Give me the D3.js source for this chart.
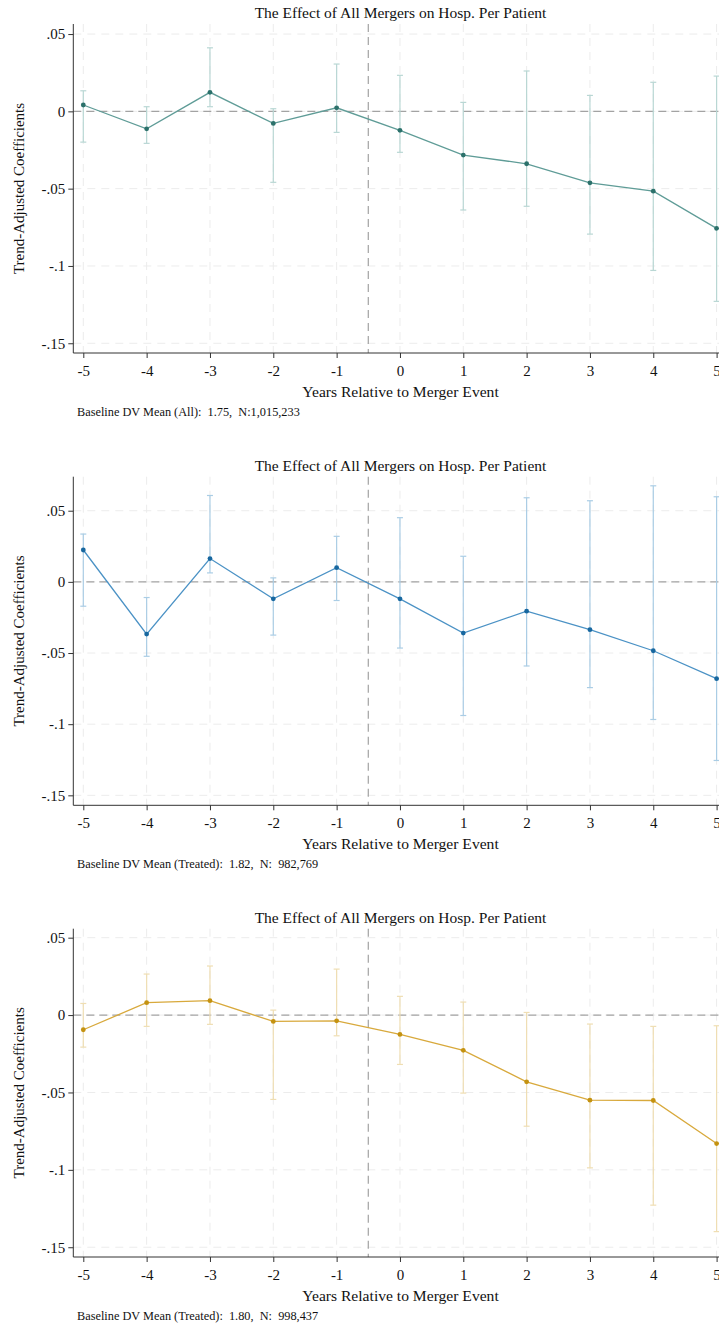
<!DOCTYPE html>
<html><head><meta charset="utf-8">
<script src="https://cdn.jsdelivr.net/npm/d3@7"></script>
<style>body{margin:0;background:#fff}svg{display:block}text{font-family:"Liberation Serif","Times New Roman",serif;fill:#111;white-space:pre}</style>
</head><body>
<script>
const years = [-5,-4,-3,-2,-1,0,1,2,3,4,5];
const xTickLabels = ["-5","-4","-3","-2","-1","0","1","2","3","4","5"];
const yTicks = [0.05, 0, -0.05, -0.1, -0.15];
const yTickLabels = [".05", "0", "-.05", "-.1", "-.15"];
const titleText = "The Effect of All Mergers on Hosp. Per Patient";
const xTitle = "Years Relative to Merger Event";
const yTitle = "Trend-Adjusted Coefficients";

const coefAll  = [0.0041,-0.0113,0.0123,-0.0078,0.0023,-0.0123,-0.0283,-0.0339,-0.0462,-0.0516,-0.0757];
const hiAll    = [0.0133,0.0030,0.0411,0.0017,0.0306,0.0233,0.0058,0.0261,0.0103,0.0188,0.0228];
const loAll    = [-0.0199,-0.0207,0.0030,-0.0459,-0.0136,-0.0265,-0.0638,-0.0614,-0.0794,-0.1029,-0.1229];

const coefTr1  = [0.0224,-0.0367,0.0164,-0.0119,0.0100,-0.0119,-0.0360,-0.0206,-0.0336,-0.0484,-0.0680];
const hiTr1    = [0.0336,-0.0110,0.0607,0.0028,0.0320,0.0451,0.0180,0.0591,0.0570,0.0675,0.0598];
const loTr1    = [-0.0171,-0.0523,0.0063,-0.0374,-0.0131,-0.0465,-0.0939,-0.0591,-0.0743,-0.0967,-0.1255];

const coefTr2  = [-0.0095,0.0080,0.0093,-0.0041,-0.0037,-0.0125,-0.0228,-0.0431,-0.0550,-0.0552,-0.0830];
const hiTr2    = [0.0075,0.0265,0.0317,0.0032,0.0297,0.0121,0.0084,0.0017,-0.0058,-0.0073,-0.0069];
const loTr2    = [-0.0207,-0.0073,-0.0060,-0.0545,-0.0134,-0.0319,-0.0504,-0.0718,-0.0987,-0.1228,-0.1399];

const notes = ["Baseline DV Mean (All):  1.75,  N:1,015,233",
               "Baseline DV Mean (Treated):  1.82,  N:  982,769",
               "Baseline DV Mean (Treated):  1.80,  N:  998,437"];

const panels = [
  {coef:coefAll, hi:hiAll, lo:loAll, note:notes[0], top:24, bottom:353, yMax:0.0565, yMin:-0.1563,
   line:"#5f9c97", mark:"#2c716b", err:"#b9d7d4"},
  {coef:coefTr1, hi:hiTr1, lo:loTr1, note:notes[1], top:476.7, bottom:805.3, yMax:0.0739, yMin:-0.157,
   line:"#4b92c5", mark:"#17679f", err:"#aacde5"},
  {coef:coefTr2, hi:hiTr2, lo:loTr2, note:notes[2], top:928.7, bottom:1257, yMax:0.0558, yMin:-0.1563,
   line:"#d8a93c", mark:"#c49210", err:"#efdeb3"}
];

const W = 719, H = 1326;
const svg = d3.select("body").append("svg").attr("width", W).attr("height", H);
const left = 73.3;
const x = d3.scaleLinear().domain([-5.158, 5.158]).range([left, left + 10.316*63.33]);

panels.forEach(p => {
  const g = svg.append("g");
  const y = d3.scaleLinear().domain([p.yMin, p.yMax]).range([p.bottom, p.top]);
  const right = W + 10;
  g.selectAll(".hg").data(yTicks).enter().append("line")
    .attr("x1", left).attr("x2", right).attr("y1", d=>y(d)).attr("y2", d=>y(d))
    .attr("stroke", "#ececec").attr("stroke-width", 1).attr("stroke-dasharray", "8,6");
  g.selectAll(".vg").data(years).enter().append("line")
    .attr("x1", d=>x(d)).attr("x2", d=>x(d)).attr("y1", p.top).attr("y2", p.bottom)
    .attr("stroke", "#ececec").attr("stroke-width", 1).attr("stroke-dasharray", "8,6");
  g.append("line").attr("x1", left).attr("x2", right).attr("y1", y(0)).attr("y2", y(0))
    .attr("stroke", "#a3a3a3").attr("stroke-width", 1.2).attr("stroke-dasharray", "8,5");
  g.append("line").attr("x1", x(-0.5)).attr("x2", x(-0.5)).attr("y1", p.top).attr("y2", p.bottom)
    .attr("stroke", "#a3a3a3").attr("stroke-width", 1.2).attr("stroke-dasharray", "8,5");
  const yAxis = d3.axisLeft(y).tickValues(yTicks).tickSize(5).tickPadding(3)
    .tickFormat((d,i)=>yTickLabels[i]);
  const ya = g.append("g").attr("transform", `translate(${left},0)`).call(yAxis);
  ya.select(".domain").attr("d", `M0,${p.top}V${p.bottom}`).attr("stroke", "#333");
  ya.selectAll(".tick line").attr("stroke", "#333");
  ya.selectAll("text").attr("font-size", 15).attr("font-family", "Liberation Serif").attr("fill", "#111");
  const xAxis = d3.axisBottom(x).tickValues(years).tickSize(5).tickPadding(7)
    .tickFormat((d,i)=>xTickLabels[i]);
  const xa = g.append("g").attr("transform", `translate(0,${p.bottom})`).call(xAxis);
  xa.select(".domain").attr("d", `M${left},0H${right}`).attr("stroke", "#333");
  xa.selectAll(".tick line").attr("stroke", "#333");
  xa.selectAll("text").attr("font-size", 15).attr("font-family", "Liberation Serif").attr("fill", "#111");
  const eb = g.selectAll(".eb").data(years).enter().append("g");
  eb.append("line").attr("x1", d=>x(d)).attr("x2", d=>x(d))
    .attr("y1", (d,i)=>y(p.hi[i])).attr("y2", (d,i)=>y(p.lo[i])).attr("stroke", p.err).attr("stroke-width", 1.2);
  eb.append("line").attr("x1", d=>x(d)-3).attr("x2", d=>x(d)+3)
    .attr("y1", (d,i)=>y(p.hi[i])).attr("y2", (d,i)=>y(p.hi[i])).attr("stroke", p.err).attr("stroke-width", 1.2);
  eb.append("line").attr("x1", d=>x(d)-3).attr("x2", d=>x(d)+3)
    .attr("y1", (d,i)=>y(p.lo[i])).attr("y2", (d,i)=>y(p.lo[i])).attr("stroke", p.err).attr("stroke-width", 1.2);
  const ln = d3.line().x((d,i)=>x(years[i])).y(d=>y(d));
  g.append("path").datum(p.coef).attr("d", ln).attr("fill", "none").attr("stroke", p.line).attr("stroke-width", 1.3);
  g.selectAll(".pt").data(p.coef).enter().append("circle")
    .attr("cx", (d,i)=>x(years[i])).attr("cy", d=>y(d)).attr("r", 2.4).attr("fill", p.mark);
  g.append("text").attr("x", 400.5).attr("y", p.top - 6).attr("text-anchor", "middle")
    .attr("font-size", 15.5).text(titleText);
  g.append("text").attr("x", 400.5).attr("y", p.bottom + 44).attr("text-anchor", "middle")
    .attr("font-size", 15.6).text(xTitle);
  g.append("text").attr("transform", `translate(24,${(p.top+p.bottom)/2}) rotate(-90)`)
    .attr("text-anchor", "middle").attr("font-size", 15).text(yTitle);
  g.append("text").attr("x", 77).attr("y", p.bottom + 63).attr("font-size", 12.3)
    .attr("xml:space", "preserve").text(p.note);
});
</script>
</body></html>
